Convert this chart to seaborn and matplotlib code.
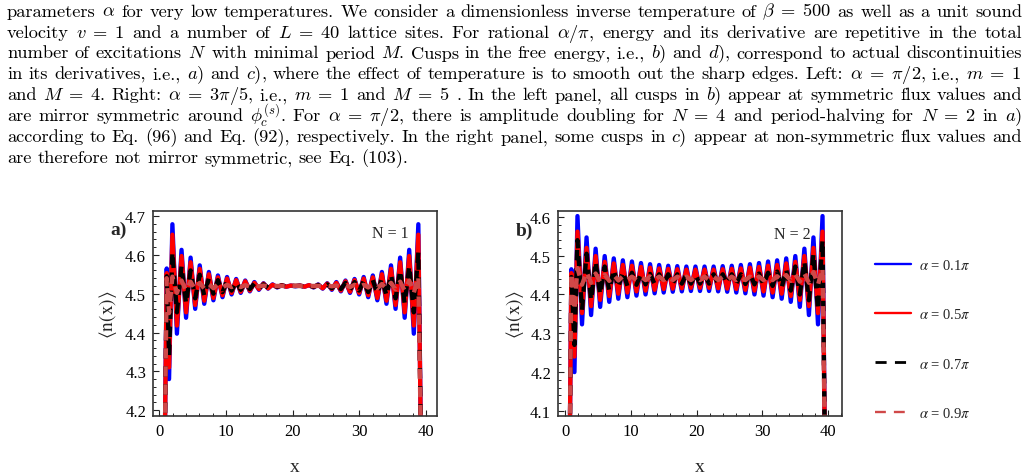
import numpy as np
import pandas as pd
import matplotlib
matplotlib.use("Agg")
import matplotlib.pyplot as plt
from matplotlib.ticker import MultipleLocator, FormatStrFormatter
from matplotlib.lines import Line2D
import seaborn as sns

# ---------------- data ----------------
SERIES = [r"$\alpha$ = 0.1$\pi$", r"$\alpha$ = 0.5$\pi$", r"$\alpha$ = 0.7$\pi$", r"$\alpha$ = 0.9$\pi$"]

# panel a) N = 1 : positions of the local extrema of the density profile
x_a = [0.80, 1.10, 1.45, 1.95, 2.63, 3.32, 4.00, 4.68, 5.37, 6.05, 6.73, 7.42, 8.10, 8.78, 9.47,
       10.15, 10.83, 11.52, 12.20, 12.88, 13.57, 14.25, 14.93, 15.62, 16.30, 16.98, 17.67, 18.35,
       19.03, 19.72, 20.40, 21.08, 21.77, 22.45, 23.13, 23.82, 24.50, 25.18, 25.87, 26.55, 27.23,
       27.92, 28.60, 29.28, 29.97, 30.65, 31.33, 32.02, 32.70, 33.38, 34.07, 34.75, 35.43, 36.12,
       36.80, 37.48, 38.17, 38.85, 39.25]
n_a_01 = [4.10, 4.565, 4.28,
          4.679, 4.397, 4.613, 4.438, 4.593, 4.461, 4.573, 4.474, 4.556, 4.483, 4.547, 4.491, 4.543, 4.498,
          4.538, 4.502, 4.534, 4.506, 4.530, 4.510, 4.527, 4.513, 4.524, 4.516, 4.522, 4.518, 4.521, 4.519,
          4.521, 4.518, 4.522, 4.516, 4.524, 4.513, 4.527, 4.510, 4.530, 4.506, 4.534, 4.502, 4.538, 4.498,
          4.543, 4.491, 4.547, 4.483, 4.556, 4.474, 4.573, 4.461, 4.593, 4.438, 4.613, 4.397, 4.679,
          4.10]
n_a_05 = [4.10, 4.553, 4.31,
          4.652, 4.418, 4.597, 4.452, 4.581, 4.471, 4.564, 4.482, 4.550, 4.489, 4.542, 4.496, 4.539, 4.502,
          4.535, 4.505, 4.532, 4.508, 4.528, 4.512, 4.526, 4.514, 4.523, 4.517, 4.522, 4.518, 4.521, 4.520,
          4.521, 4.518, 4.522, 4.517, 4.523, 4.514, 4.526, 4.512, 4.528, 4.508, 4.532, 4.505, 4.535, 4.502,
          4.539, 4.496, 4.542, 4.489, 4.550, 4.482, 4.564, 4.471, 4.581, 4.452, 4.597, 4.418, 4.652,
          4.10]
n_a_07 = [4.10, 4.545, 4.34,
          4.607, 4.452, 4.571, 4.475, 4.560, 4.488, 4.549, 4.495, 4.540, 4.500, 4.535, 4.504, 4.533, 4.508,
          4.530, 4.510, 4.528, 4.512, 4.526, 4.514, 4.524, 4.516, 4.522, 4.518, 4.521, 4.519, 4.520, 4.520,
          4.520, 4.519, 4.521, 4.518, 4.522, 4.516, 4.524, 4.514, 4.526, 4.512, 4.528, 4.510, 4.530, 4.508,
          4.533, 4.504, 4.535, 4.500, 4.540, 4.495, 4.549, 4.488, 4.560, 4.475, 4.571, 4.452, 4.607,
          4.10]
n_a_09 = [4.10, 4.540, 4.450,
          4.544, 4.502, 4.534, 4.508, 4.531, 4.511, 4.528, 4.513, 4.525, 4.514, 4.524, 4.516, 4.523, 4.517,
          4.523, 4.517, 4.522, 4.518, 4.521, 4.519, 4.521, 4.519, 4.520, 4.520, 4.520, 4.520, 4.520, 4.520,
          4.520, 4.520, 4.520, 4.520, 4.520, 4.519, 4.521, 4.519, 4.521, 4.518, 4.522, 4.517, 4.523, 4.517,
          4.523, 4.516, 4.524, 4.514, 4.525, 4.513, 4.528, 4.511, 4.531, 4.508, 4.534, 4.502, 4.544,
          4.10]

# panel b) N = 2
x_b = [0.70, 0.95, 1.42, 1.88, 2.57, 3.26, 3.95, 4.64, 5.33, 6.02, 6.71, 7.40, 8.09, 8.78, 9.47,
       10.16, 10.85, 11.54, 12.23, 12.92, 13.61, 14.30, 14.99, 15.68, 16.37, 17.06, 17.75, 18.44,
       19.13, 19.82, 20.51, 21.20, 21.89, 22.58, 23.27, 23.96, 24.65, 25.34, 26.03, 26.72, 27.41,
       28.10, 28.79, 29.48, 30.17, 30.86, 31.55, 32.24, 32.93, 33.62, 34.31, 35.00, 35.69, 36.38,
       37.07, 37.76, 38.45, 39.14, 39.50]
n_b_01 = [4.00, 4.465, 4.20,
          4.602, 4.323, 4.547, 4.347, 4.518, 4.368, 4.499, 4.381, 4.493, 4.389, 4.488, 4.393, 4.485, 4.397,
          4.481, 4.400, 4.478, 4.403, 4.476, 4.405, 4.474, 4.407, 4.473, 4.408, 4.472, 4.409, 4.472, 4.409,
          4.472, 4.409, 4.472, 4.408, 4.473, 4.407, 4.474, 4.405, 4.476, 4.403, 4.478, 4.400, 4.481, 4.397,
          4.485, 4.393, 4.488, 4.389, 4.493, 4.381, 4.499, 4.368, 4.518, 4.347, 4.547, 4.323, 4.602,
          4.00]
n_b_05 = [4.00, 4.455, 4.24,
          4.562, 4.352, 4.520, 4.370, 4.499, 4.386, 4.484, 4.396, 4.480, 4.402, 4.476, 4.405, 4.474, 4.408,
          4.471, 4.410, 4.469, 4.412, 4.467, 4.414, 4.466, 4.415, 4.465, 4.416, 4.464, 4.417, 4.464, 4.417,
          4.464, 4.417, 4.464, 4.416, 4.465, 4.415, 4.466, 4.414, 4.467, 4.412, 4.469, 4.410, 4.471, 4.408,
          4.474, 4.405, 4.476, 4.402, 4.480, 4.396, 4.484, 4.386, 4.499, 4.370, 4.520, 4.352, 4.562,
          4.00]
n_b_07 = [4.00, 4.445, 4.27,
          4.540, 4.360, 4.505, 4.385, 4.485, 4.400, 4.472, 4.410, 4.464, 4.418, 4.459, 4.422, 4.456, 4.425,
          4.454, 4.426, 4.453, 4.427, 4.452, 4.428, 4.452, 4.428, 4.452, 4.428, 4.452, 4.428, 4.452, 4.428,
          4.452, 4.428, 4.452, 4.428, 4.452, 4.428, 4.452, 4.428, 4.452, 4.427, 4.453, 4.426, 4.454, 4.425,
          4.456, 4.422, 4.459, 4.418, 4.464, 4.410, 4.472, 4.400, 4.485, 4.385, 4.505, 4.360, 4.540,
          4.00]
n_b_09 = [4.00, 4.455, 4.36,
          4.468, 4.425, 4.458, 4.430, 4.454, 4.433, 4.451, 4.435, 4.450, 4.436, 4.447, 4.437, 4.446, 4.437,
          4.446, 4.437, 4.446, 4.437, 4.446, 4.437, 4.446, 4.437, 4.446, 4.437, 4.446, 4.437, 4.446, 4.437,
          4.446, 4.437, 4.446, 4.437, 4.446, 4.437, 4.446, 4.437, 4.446, 4.437, 4.446, 4.437, 4.446, 4.437,
          4.446, 4.437, 4.447, 4.436, 4.450, 4.435, 4.451, 4.433, 4.454, 4.430, 4.458, 4.425, 4.468,
          4.00]

PANEL_TAGS = ["a)", "b)"]
PANEL_N = ["N = 1", "N = 2"]
YTICK_A = [4.2, 4.3, 4.4, 4.5, 4.6, 4.7]
YTICK_B = [4.1, 4.2, 4.3, 4.4, 4.5, 4.6]
XTICKS = [0, 10, 20, 30, 40]

CAPTION = [
    r"parameters $\alpha$ for very low temperatures. We consider a dimensionless inverse temperature of $\beta\;=\;500$ as well as a unit sound",
    r"velocity $v\;=\;1$ and a number of $L\;=\;40$ lattice sites. For rational $\alpha/\pi$, energy and its derivative are repetitive in the total",
    r"number of excitations $N$ with minimal period $M$. Cusps in the free energy, i.e., $b$) and $d$), correspond to actual discontinuities",
    r"in its derivatives, i.e., $a$) and $c$), where the effect of temperature is to smooth out the sharp edges. Left: $\alpha\;=\;\pi/2$, i.e., $m\;=\;1$",
    r"and $M\;=\;4$. Right: $\alpha\;=\;3\pi/5$, i.e., $m\;=\;1$ and $M\;=\;5$ . In the left panel, all cusps in $b$) appear at symmetric flux values and",
    r"are mirror symmetric around $\phi_c^{(s)}$. For $\alpha\;=\;\pi/2$, there is amplitude doubling for $N\;=\;4$ and period-halving for $N\;=\;2$ in $a$)",
    r"according to Eq. (96) and Eq. (92), respectively. In the right panel, some cusps in $c$) appear at non-symmetric flux values and",
    r"are therefore not mirror symmetric, see Eq. (103).",
]

# ---------------- styling ----------------
COLORS = {SERIES[0]: "#0000ff", SERIES[1]: "#ff0000", SERIES[2]: "#000000", SERIES[3]: "#d04848"}
DASHES = {SERIES[0]: "", SERIES[1]: "", SERIES[2]: (2.4, 1.8), SERIES[3]: (2.4, 1.8)}

sns.set_theme(style="ticks")
plt.rcParams["font.family"] = ["Liberation Serif", "DejaVu Serif"]
plt.rcParams["mathtext.fontset"] = "stix"

W, H = 1027, 477
fig = plt.figure(figsize=(W / 100, H / 100), dpi=100)
fig.patch.set_facecolor("white")


def fx(px):
    return px / W


def fy(py):
    return 1 - py / H


def frame(x, cols):
    parts = [pd.DataFrame({"x": x, "n": v, "alpha": s}) for s, v in zip(SERIES, cols)]
    return pd.concat(parts, ignore_index=True)


df_a = frame(x_a, [n_a_01, n_a_05, n_a_07, n_a_09])
df_b = frame(x_b, [n_b_01, n_b_05, n_b_07, n_b_09])

panels = [
    dict(df=df_a, box=(153, 212, 437, 417), xlim=(-0.96, 41.65), ylim=(4.185, 4.713), yt=YTICK_A,
         tag_xy=(119, 230), n_xy=(0.834, 0.895), ylab_x=-0.118),
    dict(df=df_b, box=(558, 212, 842, 417), xlim=(-1.08, 42.1), ylim=(4.087, 4.615), yt=YTICK_B,
         tag_xy=(524, 231), n_xy=(0.826, 0.887), ylab_x=-0.112),
]

for i, p in enumerate(panels):
    l, t, r, b = p["box"]
    ax = fig.add_axes([fx(l), fy(b), (r - l) / W, (b - t) / H])
    sns.lineplot(data=p["df"], x="x", y="n", hue="alpha", style="alpha", hue_order=SERIES,
                 style_order=SERIES, palette=COLORS, dashes=DASHES, sort=False, estimator=None,
                 linewidth=3.1, legend=False, ax=ax)
    ax.set_xlim(*p["xlim"])
    ax.set_ylim(*p["ylim"])
    ax.set_xticks(XTICKS)
    ax.set_yticks(p["yt"])
    ax.xaxis.set_minor_locator(MultipleLocator(2))
    ax.yaxis.set_minor_locator(MultipleLocator(0.02))
    ax.yaxis.set_major_formatter(FormatStrFormatter("%.1f"))
    ax.tick_params(which="both", direction="in", top=False, right=False, color="#222222",
                   labelsize=12, labelcolor="black")
    ax.tick_params(which="major", length=4.5, width=0.8, pad=5)
    ax.tick_params(which="minor", length=2.3, width=0.7)
    for sp in ax.spines.values():
        sp.set_visible(True)
        sp.set_color("#333333")
        sp.set_linewidth(1.2)
    ax.set_xlabel("x", fontsize=14)
    ax.xaxis.set_label_coords(0.5, -0.205)
    ax.set_ylabel(r"$\langle\mathrm{n(x)}\rangle$", fontsize=14)
    ax.yaxis.set_label_coords(p["ylab_x"], 0.5)
    ax.text(p["n_xy"][0], p["n_xy"][1], PANEL_N[i], transform=ax.transAxes, ha="center",
            va="center", fontsize=11.5)
    fig.text(fx(p["tag_xy"][0]), fy(p["tag_xy"][1]), PANEL_TAGS[i], ha="center", va="center",
             fontsize=14, fontweight="bold")

# legend on the right
handles = [
    Line2D([], [], color=COLORS[SERIES[0]], lw=1.7),
    Line2D([], [], color=COLORS[SERIES[1]], lw=1.7),
    Line2D([], [], color=COLORS[SERIES[2]], lw=2.0, dashes=(4.0, 3.0)),
    Line2D([], [], color=COLORS[SERIES[3]], lw=1.7, dashes=(4.6, 3.4)),
]
fig.legend(handles, SERIES, loc="upper left", bbox_to_anchor=(fx(875), fy(259)), frameon=False,
           fontsize=10.5, handlelength=2.5, handletextpad=0.5, labelspacing=2.42,
           borderpad=0, borderaxespad=0)

# caption text above the figure (justified like the paper)
renderer = fig.canvas.get_renderer()
CAP_FS0 = 12.0
X0, X1 = 7.0, 1022.0
baselines = [16.7, 37.6, 58.5, 79.4, 100.3, 121.4, 142.4, 163.3]
rows = []
for i, line in enumerate(CAPTION):
    words = line.split(" ")
    texts = [fig.text(0, fy(baselines[i]), w, family="cmr10", math_fontfamily="cm",
                      fontsize=CAP_FS0, ha="left", va="baseline", color="black") for w in words]
    rows.append(texts)

# choose one font size so that justified lines have about a normal inter-word space
ratios = []
for texts in rows[:-1]:
    widths = [tx.get_window_extent(renderer).width for tx in texts]
    natural = sum(widths) + (len(texts) - 1) * CAP_FS0 * 100 / 72 * 0.333
    ratios.append((X1 - X0) / natural)
cap_fs = CAP_FS0 * float(np.median(ratios))

for i, texts in enumerate(rows):
    for tx in texts:
        tx.set_fontsize(cap_fs)
    widths = [tx.get_window_extent(renderer).width for tx in texts]
    if i < len(rows) - 1:
        gap = (X1 - X0 - sum(widths)) / (len(texts) - 1)
    else:
        gap = cap_fs * 100 / 72 * 0.333
    xpos = X0
    for tx, w in zip(texts, widths):
        tx.set_x(fx(xpos))
        xpos += w + gap

fig.savefig("out.png", dpi=100, facecolor="white")
